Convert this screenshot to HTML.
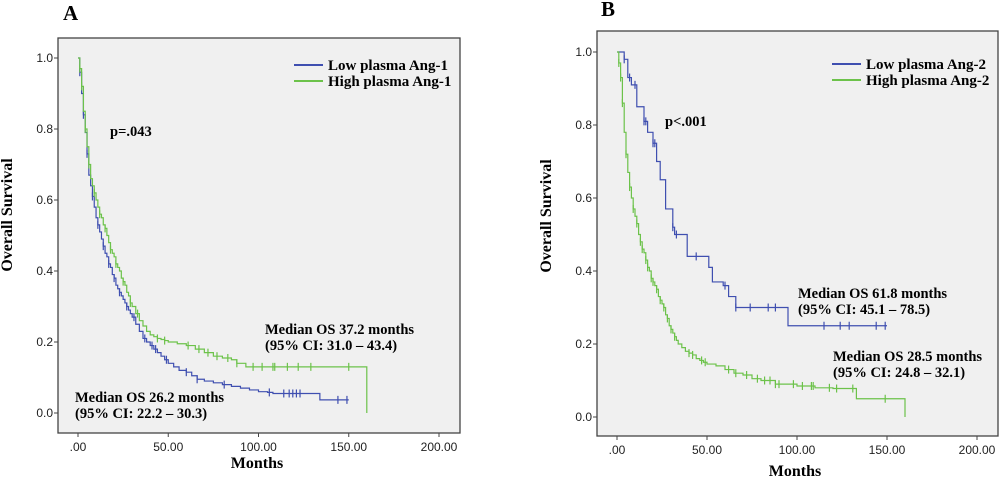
<!DOCTYPE html>
<html><head><meta charset="utf-8"><style>
body{margin:0;background:#fff;width:1000px;height:476px;overflow:hidden}
svg text{font-family:"Liberation Serif",serif;font-weight:bold}
.tk{font-family:"Liberation Sans",sans-serif;font-weight:normal;font-size:12px;fill:#222}
</style></head><body>
<svg id="chart" width="1000" height="476" xmlns="http://www.w3.org/2000/svg"></svg>
<script>
const xTicks=[0,50,100,150,200];
const xTickLabels=[".00","50.00","100.00","150.00","200.00"];
const yTicks=[0,0.2,0.4,0.6,0.8,1.0];
const yTickLabels=["0.0","0.2","0.4","0.6","0.8","1.0"];
// Panel A
const aLowT=[0,1,2,3,4,5,6,7,8,9,10,11,12,13,14,15,16,17,18,19,20,21,22,23,24,25,26,27,28,29,30,32,34,36,38,40,42,44,46,48,50,53,56,60,63,66,70,75,80,85,90,95,100,105,108,120,134,150];
const aLowS=[1,0.96,0.9,0.84,0.79,0.73,0.67,0.64,0.61,0.58,0.55,0.53,0.51,0.49,0.47,0.45,0.44,0.42,0.41,0.39,0.38,0.36,0.35,0.34,0.33,0.32,0.31,0.3,0.29,0.28,0.27,0.25,0.23,0.21,0.2,0.19,0.18,0.17,0.16,0.15,0.14,0.13,0.12,0.115,0.105,0.095,0.09,0.085,0.08,0.075,0.07,0.065,0.06,0.058,0.055,0.055,0.037,0.037];
const aLowCens=[1,3,5,8,11,14,17,20,23,27,31,37,41,43,49,60,66,81,106,114,117,119,121,123,144,149];
const aHighT=[0,1,2,3,4,5,6,7,8,9,10,11,12,13,14,15,16,17,18,19,20,21,22,23,24,25,26,27,28,29,30,32,34,36,38,40,42,44,46,48,50,55,60,65,70,75,80,85,88,93,160];
const aHighS=[1,0.97,0.92,0.85,0.8,0.75,0.7,0.66,0.64,0.62,0.6,0.58,0.56,0.55,0.53,0.52,0.5,0.48,0.46,0.45,0.44,0.42,0.41,0.4,0.38,0.37,0.36,0.34,0.33,0.31,0.3,0.28,0.26,0.245,0.23,0.22,0.215,0.21,0.207,0.204,0.2,0.195,0.19,0.18,0.17,0.16,0.155,0.15,0.14,0.13,0.13];
const aHighCens=[1,2,4,6,9,12,15,18,21,25,29,33,44,48,61,67,72,77,83,88,97,102,108,109,116,122,129,150];
// Panel B
const bLowT=[0,4,6,8,11,15,17,20,22,24,27,31,32,39,51,53,59,62,66,95,150];
const bLowS=[1,0.98,0.93,0.91,0.85,0.81,0.78,0.75,0.7,0.65,0.57,0.52,0.5,0.44,0.41,0.37,0.36,0.33,0.3,0.25,0.25];
const bLowCens=[4,7,10,15,16,20,21,31,33,44,60,66,74,84,88,115,124,129,144,149];
const bHighT=[0,1,2,3,4,5,6,7,8,9,10,11,12,13,14,15,16,17,18,19,20,21,22,23,24,25,26,27,28,29,30,31,32,33,34,36,38,40,42,44,46,48,50,55,60,65,70,75,80,88,100,110,120,133,160];
const bHighS=[1,0.97,0.93,0.86,0.78,0.72,0.67,0.63,0.6,0.57,0.55,0.53,0.5,0.48,0.46,0.45,0.43,0.41,0.4,0.38,0.37,0.36,0.35,0.33,0.32,0.31,0.3,0.28,0.27,0.25,0.24,0.23,0.22,0.21,0.2,0.19,0.18,0.175,0.17,0.16,0.155,0.15,0.145,0.14,0.13,0.12,0.115,0.105,0.1,0.09,0.085,0.08,0.078,0.05,0.05];
const bHighCens=[1,2,3,5,7,9,11,13,14,16,17,19,20,22,24,26,28,30,32,40,42,47,49,62,66,72,78,82,85,88,90,98,103,108,109,118,122,131,149];

const svg=document.getElementById('chart');
const NS="http://www.w3.org/2000/svg";
function mk(tag,attrs,parent,txt){const e=document.createElementNS(NS,tag);for(const k in attrs)e.setAttribute(k,attrs[k]);if(txt!==undefined)e.textContent=txt;(parent||svg).appendChild(e);return e;}
function survAt(T,S,t){let s=S[0];for(let i=0;i<T.length;i++){if(T[i]<=t)s=S[i];}return s;}

function panel(p){
  const g=mk('g',{});
  
  
  const X=v=>p.x0+(v/200)*(p.x200-p.x0);
  const Y=v=>p.y0-v*(p.y0-p.y1);
  const fr=mk('rect',{x:p.fx,y:p.fy,width:p.fw,height:p.fh,fill:'#f0f0f0',stroke:'#444','stroke-width':1.3},g);
  
  
  yTicks.forEach((v,i)=>{
    mk('line',{x1:p.fx-4,x2:p.fx,y1:Y(v),y2:Y(v),stroke:'#444'},g);
    const t=mk('text',{x:p.fx-5,y:Y(v)+4,'text-anchor':'end',class:'tk'},g,yTickLabels[i]);
    
    
  });
  xTicks.forEach((v,i)=>{
    mk('line',{x1:X(v),x2:X(v),y1:p.fy+p.fh,y2:p.fy+p.fh+4,stroke:'#444'},g);
    const t=mk('text',{x:X(v),y:p.fy+p.fh+18,'text-anchor':'middle',class:'tk'},g,xTickLabels[i]);
    
    
  });
  function series(T,S,C,color,name,endDrop){
    let d='M'+X(T[0])+','+Y(S[0]);
    for(let i=1;i<T.length;i++){d+=' H'+X(T[i])+' V'+Y(S[i]);}
    if(endDrop)d+=' V'+Y(0);
    const path=mk('path',{d:d,fill:'none',stroke:color,'stroke-width':1.2},g);
    
    
    C.forEach(c=>{
      const yy=Y(survAt(T,S,c));
      const l=mk('line',{x1:X(c),x2:X(c),y1:yy-4,y2:yy+4,stroke:color,'stroke-width':1.2},g);
      
      
    });
  }
  series(p.lowT,p.lowS,p.lowC,'#3f4fb0',p.id+'-low',false);
  series(p.highT,p.highS,p.highC,'#6cc24a',p.id+'-high',p.highDrop);
  const lg=mk('g',{},g);
  
  
  mk('line',{x1:p.lx,x2:p.lx+29,y1:p.ly,y2:p.ly,stroke:'#3f4fb0','stroke-width':2},lg);
  mk('line',{x1:p.lx,x2:p.lx+29,y1:p.ly+16,y2:p.ly+16,stroke:'#6cc24a','stroke-width':2},lg);
  mk('text',{x:p.lx+34,y:p.ly+5,'font-size':15},lg,p.legLow);
  mk('text',{x:p.lx+34,y:p.ly+21,'font-size':15},lg,p.legHigh);
  p.ann.forEach(a=>{const t=mk('text',{x:a[0],y:a[1],'font-size':14.5},g,a[2]);
    
    });
  const lab=mk('text',{x:p.labx,y:p.laby,'font-size':21},g,p.label);
  
  
  const yt=mk('text',{transform:'translate('+p.ytx+','+p.yty+') rotate(-90)','text-anchor':'middle','font-size':16},g,'Overall  Survival');
  
  
  const xt=mk('text',{x:p.xtx,y:p.xty,'text-anchor':'middle','font-size':16},g,'Months');
  
  
}
panel({id:'a',fx:58,fy:38,fw:402,fh:395,x0:78,x200:439,y0:413,y1:58,
 lowT:aLowT,lowS:aLowS,lowC:aLowCens,highT:aHighT,highS:aHighS,highC:aHighCens,highDrop:true,
 lx:294,ly:65,legLow:'Low plasma Ang-1',legHigh:'High plasma Ang-1',
 ann:[[110,136,'p=.043'],[265,334,'Median OS 37.2 months'],[265,350,'(95% CI: 31.0 – 43.4)'],[75,402,'Median OS 26.2 months'],[75,418,'(95% CI: 22.2 – 30.3)']],
 label:'A',labx:63,laby:20,ytx:12,yty:215,xtx:257,xty:468});
panel({id:'b',fx:597,fy:31,fw:401,fh:405,x0:617,x200:977,y0:417,y1:52,
 lowT:bLowT,lowS:bLowS,lowC:bLowCens,highT:bHighT,highS:bHighS,highC:bHighCens,highDrop:true,
 lx:832,ly:64,legLow:'Low plasma Ang-2',legHigh:'High plasma Ang-2',
 ann:[[665,126,'p<.001'],[798,298,'Median OS 61.8 months'],[798,314,'(95% CI: 45.1 – 78.5)'],[833,361,'Median OS 28.5 months'],[833,377,'(95% CI: 24.8 – 32.1)']],
 label:'B',labx:601,laby:16,ytx:551,yty:216,xtx:795,xty:476});
</script>
</body></html>
